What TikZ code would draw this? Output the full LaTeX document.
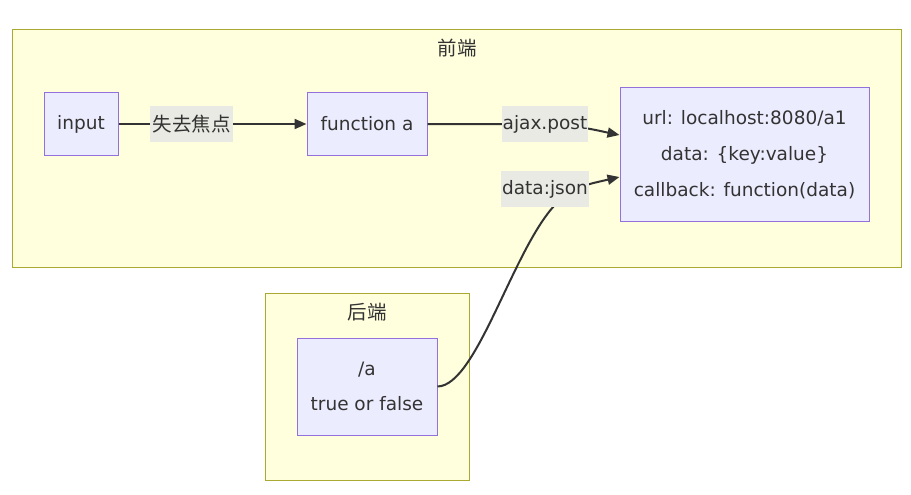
\documentclass[tikz,border=0pt]{standalone}
\usepackage{fontspec}
\setmainfont{DejaVu Sans}
\newfontfamily\cjk{Noto Sans CJK SC}
\usetikzlibrary{arrows.meta}
\definecolor{clfill}{HTML}{FFFFDE}
\definecolor{clline}{HTML}{AAAA33}
\definecolor{ndfill}{HTML}{ECECFF}
\definecolor{ndline}{HTML}{9370DB}
\definecolor{txt}{HTML}{333333}
\definecolor{lblbg}{HTML}{EAEAE4}
\tikzset{
  cluster/.style={draw=clline, fill=clfill, line width=1pt},
  box/.style={draw=ndline, fill=ndfill, line width=1pt, text=txt, font=\fontsize{18.5}{22}\selectfont},
  lbl/.style={fill=lblbg, text=txt, inner sep=0pt, font=\fontsize{18.5}{22}\selectfont},
  ttl/.style={text=txt, font=\fontsize{19.5}{22}\selectfont\cjk},
  conn/.style={draw=txt, line width=2pt},
  tip/.style={-{Triangle[length=12pt,width=10pt]}}
}
\begin{document}
\begin{tikzpicture}[x=1pt,y=-1pt]
\useasboundingbox (0,0) rectangle (911,495);
% clusters
\path[cluster] (12,30) rectangle (901,267);
\node[ttl] (t1) at (457,48) {前端};
\path[cluster] (265,293) rectangle (469,480);
\node[ttl] (t2) at (367,312) {后端};
% nodes
\node[box, minimum width=74pt, minimum height=62pt] (in) at (81,124) {input};
\node[box, minimum width=120pt, minimum height=62pt] (fa) at (367,124) {function a};
\node[box, minimum width=249pt, minimum height=133pt, align=center] (rt) at (744.5,154.5)
  {url: localhost:8080/a1\\[14pt]data: \{key:value\}\\[14pt]callback: function(data)};
\node[box, minimum width=140pt, minimum height=97pt, align=center] (sa) at (367,386.5)
  {/a\\[13pt]true or false};
% edges
\coordinate (c1) at (520,124);
\coordinate (c2) at (560,200);
\draw[conn, tip] (in.east) -- (fa.west);
\draw[conn, tip] (fa.east) -- (c1) .. controls (575,124) and (595,130) .. (rt.west |- 0,135);
\draw[conn, tip] (sa.east) .. controls (478,386) and (515,240) .. (c2) .. controls (580,186) .. (rt.west |- 0,177);
% edge labels
\node[lbl, minimum width=83pt, minimum height=36pt, font=\fontsize{19.5}{22}\selectfont\cjk] (l1) at (191.5,124) {失去焦点};
\node[lbl, minimum width=86pt, minimum height=36pt] (l2) at (545,124) {ajax.post};
\node[lbl, minimum width=88pt, minimum height=36pt] (l3) at (545,189) {data:json};
\end{tikzpicture}
\end{document}
